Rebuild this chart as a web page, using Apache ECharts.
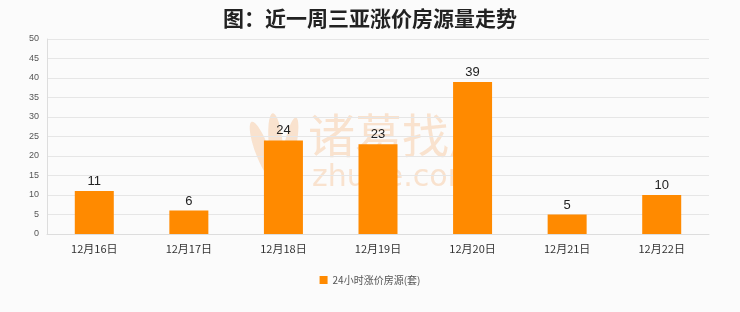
<!DOCTYPE html>
<html><head><meta charset="utf-8">
<script src="https://cdn.jsdelivr.net/npm/echarts@6/dist/echarts.min.js"></script>
<style>html,body{margin:0;padding:0;background:#fbfbfb}#c{width:740px;height:312px}</style>
</head><body><div id="c"></div>
<script>
const categories = ['12月16日','12月17日','12月18日','12月19日','12月20日','12月21日','12月22日'];
const values = [11, 6, 24, 23, 39, 5, 10];
const seriesName = '24小时涨价房源(套)';
const titleText = '图：近一周三亚涨价房源量走势';

const wm = 'rgba(246,196,150,0.45)';
const chart = echarts.init(document.getElementById('c'));
chart.setOption({
  backgroundColor: '#fbfbfb',
  animation: false,
  title: {text: titleText, left: 'center', top: 3,
    textStyle: {fontSize: 21, fontWeight: 'bold', color: '#222', fontFamily: 'Noto Sans CJK SC'}},
  graphic: [
    {type: 'ellipse', shape: {cx: 262, cy: 150, rx: 7, ry: 30}, rotation: 0.35, origin: [262,150], style: {fill: wm}, z: 0},
    {type: 'ellipse', shape: {cx: 276, cy: 145, rx: 7, ry: 32}, rotation: 0.1, origin: [276,145], style: {fill: wm}, z: 0},
    {type: 'ellipse', shape: {cx: 290, cy: 147, rx: 6, ry: 30}, rotation: -0.2, origin: [290,147], style: {fill: wm}, z: 0},
    {type: 'text', left: 308, top: 112, z: 0, style: {text: '诸葛找房', font: '47px "Noto Sans CJK SC"', fill: wm}},
    {type: 'text', left: 312, top: 163, z: 0, style: {text: 'zhuge.com', font: '30px "DejaVu Sans"', fill: wm}}
  ],
  legend: {bottom: 22, left: 'center', itemWidth: 8, itemHeight: 8, icon: 'rect',
    textStyle: {fontSize: 10, color: '#555', fontFamily: 'Noto Sans CJK SC'}},
  grid: {left: 47, right: 31, top: 39, bottom: 78},
  xAxis: {type: 'category', data: categories,
    axisLine: {lineStyle: {color: '#ddd'}}, axisTick: {show: false},
    axisLabel: {color: '#333', fontSize: 11, margin: 9, fontFamily: 'Noto Sans CJK SC'}},
  yAxis: {type: 'value', min: 0, max: 50, interval: 5,
    axisLine: {show: true, lineStyle: {color: '#ddd'}}, axisTick: {show: false},
    splitLine: {lineStyle: {color: '#e6e6e6'}},
    axisLabel: {color: '#555', fontSize: 9, margin: 8}},
  series: [{name: seriesName, type: 'bar', data: values, barWidth: 39, z: 2,
    itemStyle: {color: '#ff8a00'},
    label: {show: true, position: 'top', color: '#222', fontSize: 13, distance: 3}}]
});
</script></body></html>
